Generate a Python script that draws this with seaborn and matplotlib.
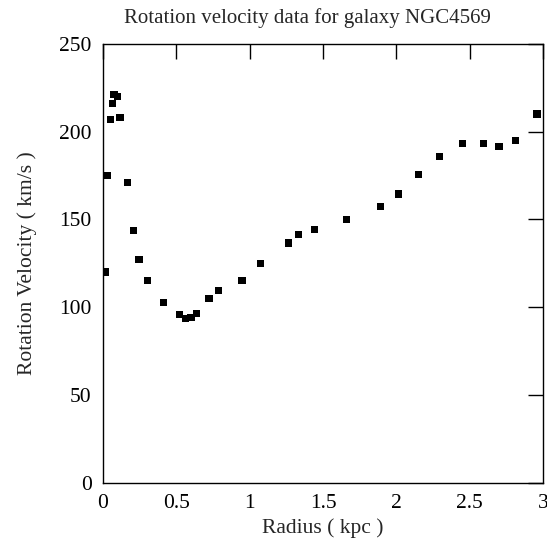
#!/usr/bin/env python3

# Rotation curve for NGC4569.

import matplotlib
matplotlib.use("Agg")
import matplotlib.pyplot as plt
import pandas
import seaborn as sns

radius = [0.016, 0.031, 0.05, 0.066, 0.075, 0.10, 0.116, 0.166, 0.209, 0.247,
          0.306, 0.415, 0.524, 0.565, 0.60, 0.64, 0.724, 0.79, 0.947, 1.075,
          1.267, 1.333, 1.441, 1.66, 1.891, 2.016, 2.15, 2.293, 2.45, 2.593,
          2.70, 2.81, 2.958]
velocity = [120.0, 175.0, 206.8, 216.0, 221.0, 220.0, 208.0, 171.0, 143.7, 127.0,
            115.3, 102.7, 95.8, 93.6, 94.3, 96.4, 104.9, 109.7, 115.3, 124.8,
            136.5, 141.5, 144.2, 150.0, 157.4, 164.4, 175.4, 185.8, 193.0, 193.0,
            191.5, 194.9, 210.0]

xticks = [0, 0.5, 1, 1.5, 2, 2.5, 3]
xticklabels = ["0", "0.5", "1", "1.5", "2", "2.5", "3"]
yticks = [0, 50, 100, 150, 200, 250]

df = pandas.DataFrame({"radius": radius, "velocity": velocity})

sns.set_theme(style="white")
plt.rcParams["font.family"] = ["Liberation Serif", "DejaVu Serif"]

fig = plt.figure(figsize=(5.47, 5.39), dpi=100)
ax = fig.add_axes([0.188, 0.104, 0.805, 0.815])

sns.scatterplot(data=df, x="radius", y="velocity", marker="s", s=28,
                color="black", edgecolor="none", linewidth=0, ax=ax)

ax.set_xlim(0, 3)
ax.set_ylim(0, 250)
ax.set_xticks(xticks)
ax.set_xticklabels(xticklabels)
ax.set_yticks(yticks)
ax.tick_params(direction="in", length=11, width=1, top=True, right=True,
               labelsize=15.5, colors="black", pad=8)
ax.tick_params(axis="y", pad=8)
for spine in ax.spines.values():
    spine.set_color("black")
    spine.set_linewidth(1)

# title in the original sits a bit left of the axes centre
ax.text(0.464, 1.035, "Rotation velocity data for galaxy NGC4569",
        transform=ax.transAxes, ha="center", va="bottom", fontsize=15)
ax.set_xlabel("Radius ( kpc )", fontsize=15.5, labelpad=4)
ax.set_ylabel("Rotation Velocity ( km/s )", fontsize=15.5, labelpad=16)

fig.savefig("out.png", dpi=100)
